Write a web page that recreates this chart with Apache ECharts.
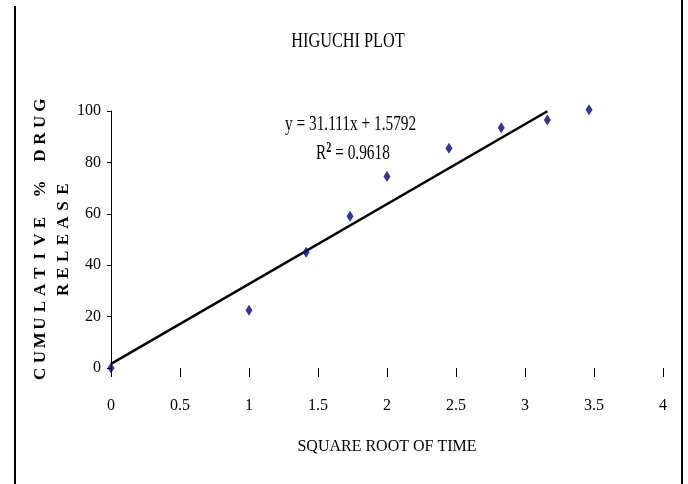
<!DOCTYPE html>
<html lang="en" style="height: 100%">
<head>
    <meta charset="UTF-8">
    <title>Higuchi plot</title>
    <script src="https://cdn.jsdelivr.net/npm/echarts@6/dist/echarts.min.js"></script>
</head>
<body style="height: 100%; margin: 0; background: #fff">
<div id="main" style="width: 688px; height: 484px"></div>
<script>
    // values
    var sqrtTime = [0, 1, 1.414, 1.732, 2, 2.449, 2.828, 3.162, 3.464];
    var release = [0, 22.5, 45, 59, 74.5, 85.5, 93.5, 96.5, 100.5];
    // trend line ends, as drawn
    var trendX = [0, 3.162];
    var trendY = [1.6, 99.9];
    var xTicks = [0, 0.5, 1, 1.5, 2, 2.5, 3, 3.5, 4];
    var yTicks = [0, 20, 40, 60, 80, 100];
    var yName1 = 'CUMULATIVE % DRUG';
    var yName2 = 'RELEASE';

    function spaced(s) {
        return s.split('').map(function (ch) {
            return '{c|' + (ch === ' ' ? '\u00a0' : ch) + '}';
        }).join('');
    }

    var serif = '"Liberation Serif", "Times New Roman", serif';

    var myoption = {
        backgroundColor: '#fff',
        animation: false,
        grid: {left: 111, right: 25, top: 111, bottom: 116},
        graphic: [
            {type: 'line', shape: {x1: 15, y1: 6, x2: 15, y2: 484}, style: {stroke: '#000', lineWidth: 2}},
            {type: 'line', shape: {x1: 682, y1: 0, x2: 682, y2: 484}, style: {stroke: '#000', lineWidth: 2}},
            {
                type: 'text', x: 348, y: 41, scaleX: 0.74,
                style: {text: 'HIGUCHI PLOT', font: '22px ' + serif, fill: '#000', align: 'center', verticalAlign: 'middle'}
            },
            {
                type: 'text', x: 285, y: 124, scaleX: 0.73,
                style: {text: 'y = 31.111x + 1.5792', font: '21px ' + serif, fill: '#000', align: 'left', verticalAlign: 'middle'}
            },
            {
                type: 'text', x: 316, y: 153, scaleX: 0.73,
                style: {
                    text: '{r|R}{s|2}{r| = 0.9618}', fill: '#000', align: 'left', verticalAlign: 'middle',
                    rich: {
                        r: {fontSize: 21, fontFamily: serif, fill: '#000', lineHeight: 24},
                        s: {fontSize: 14, fontFamily: serif, fontWeight: 'bold', fill: '#000', verticalAlign: 'top', lineHeight: 14}
                    }
                }
            }
        ],
        xAxis: {
            type: 'value',
            min: xTicks[0],
            max: xTicks[xTicks.length - 1],
            interval: 0.5,
            name: 'SQUARE ROOT OF TIME',
            nameLocation: 'middle',
            nameGap: 71,
            nameMoveOverlap: false,
            nameTextStyle: {fontFamily: serif, fontSize: 16, color: '#000'},
            axisLine: {show: false},
            axisTick: {show: true, length: 9, lineStyle: {color: '#000', width: 1}},
            axisLabel: {fontFamily: serif, fontSize: 16, color: '#000', margin: 30},
            splitLine: {show: false}
        },
        yAxis: {
            type: 'value',
            min: yTicks[0],
            max: yTicks[yTicks.length - 1],
            interval: 20,
            name: spaced(yName1) + '\n' + spaced(yName2),
            nameLocation: 'middle',
            nameGap: 36,
            nameMoveOverlap: false,
            nameTextStyle: {
                fontFamily: serif, fontWeight: 'bold', fontSize: 17, color: '#000', lineHeight: 23,
                rich: {
                    c: {
                        width: 16.8, align: 'center', lineHeight: 23,
                        fontFamily: serif,
                        fontWeight: 'bold', fontSize: 17, color: '#000'
                    }
                }
            },
            axisLine: {show: true, lineStyle: {color: '#000', width: 1}},
            axisTick: {show: true, length: 4, lineStyle: {color: '#000'}},
            axisLabel: {fontFamily: serif, fontSize: 16, color: '#000', margin: 10},
            splitLine: {show: false}
        },
        series: [
            {
                name: 'trend',
                type: 'line',
                data: trendX.map(function (x, i) { return [x, trendY[i]]; }),
                symbol: 'none',
                lineStyle: {color: '#000', width: 2.5},
                z: 2
            },
            {
                name: 'release',
                type: 'scatter',
                data: sqrtTime.map(function (x, i) { return [x, release[i]]; }),
                symbol: 'diamond',
                symbolSize: [7, 11],
                itemStyle: {color: '#000080'},
                clip: false,
                z: 3
            }
        ]
    };
    var myChart = echarts.init(document.getElementById('main'));
    myChart.setOption(myoption);
</script>
</body>
</html>
